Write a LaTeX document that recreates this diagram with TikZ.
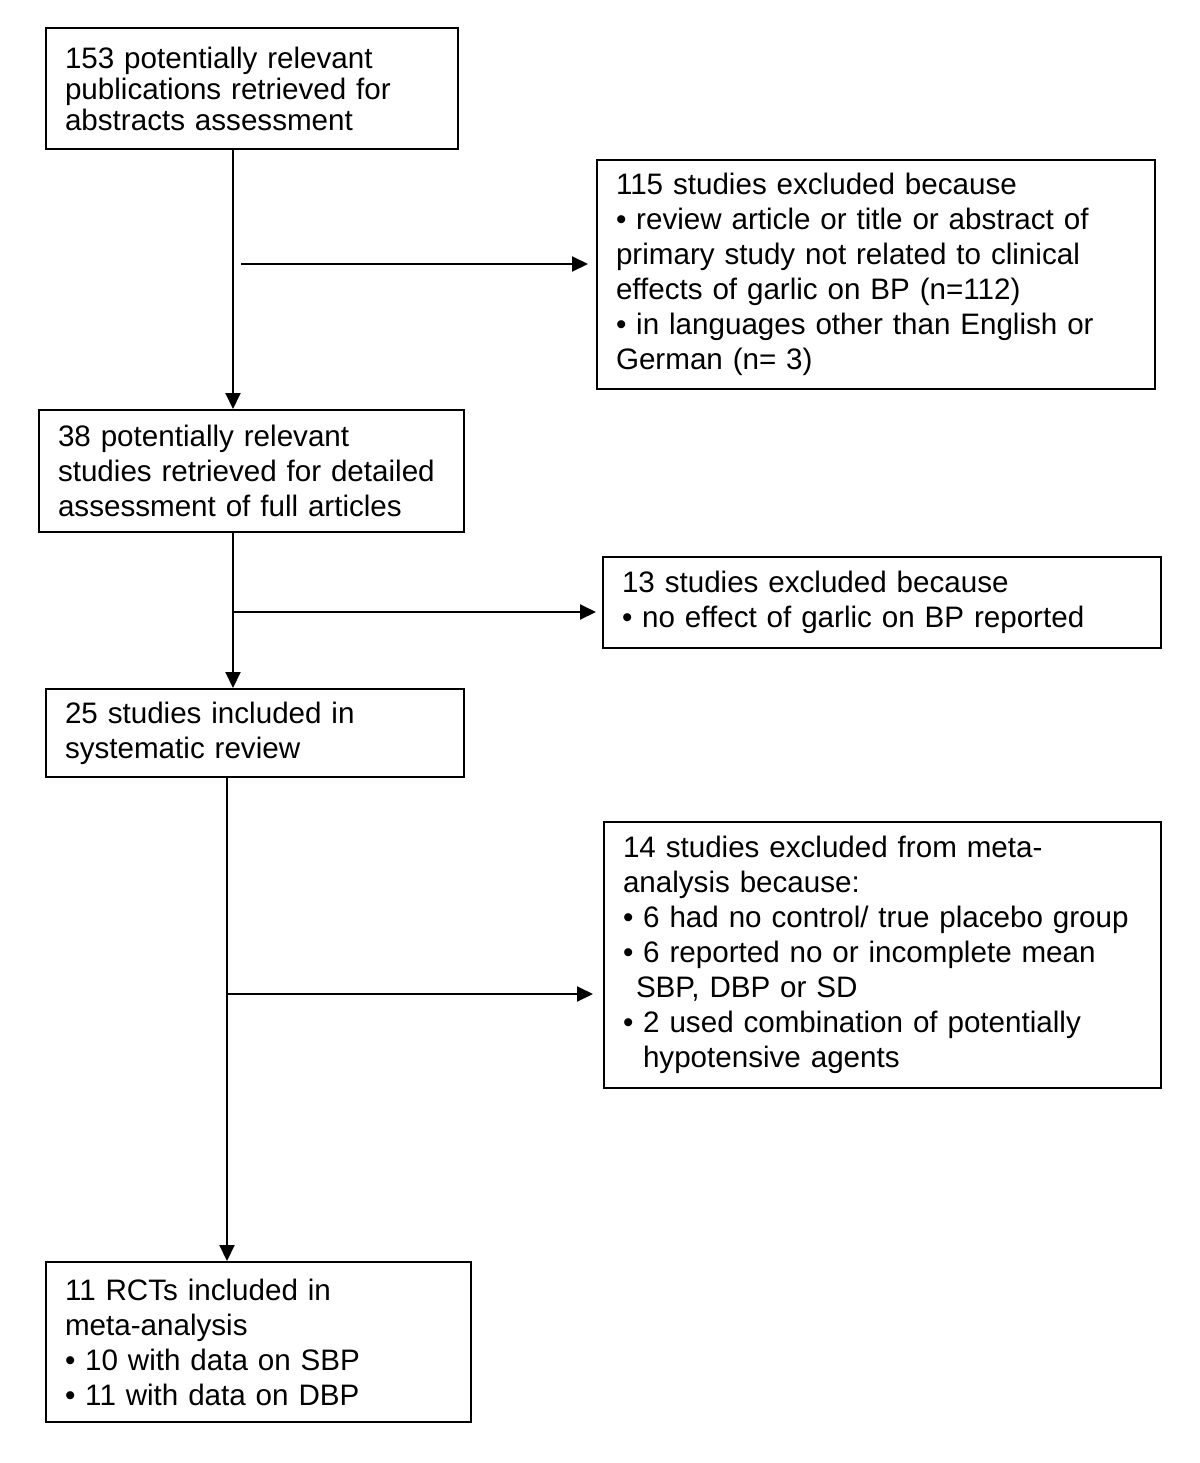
\documentclass[tikz,border=0pt]{standalone}
\usepackage{fontspec}
\setmainfont{Liberation Sans}
\usetikzlibrary{arrows.meta}
\begin{document}
\begin{tikzpicture}[x=0.5pt,y=-0.5pt,
  box/.style={draw, line width=1pt, anchor=north west, align=left,
    inner xsep=9.5pt, inner ysep=0pt, font=\fontsize{14.8}{17.5}\selectfont},
  arr/.style={line width=1pt, -{Triangle[length=8pt,width=7.5pt]}}]
\useasboundingbox[fill=white] (0,0) rectangle (1200,1463);
\node[box, minimum width=206pt, text width=187pt, minimum height=60.5pt,
  font=\fontsize{14.8}{15.5}\selectfont] (b1) at (45,27)
  {153 potentially relevant\\publications retrieved for\\abstracts assessment};
\node[box, minimum width=279pt, text width=260pt, minimum height=114.5pt] (b2) at (596,159)
  {115 studies excluded because\\• review article or title or abstract of\\primary study not related to clinical\\effects of garlic on BP (n=112)\\• in languages other than English or\\German (n= 3)};
\node[box, minimum width=212.5pt, text width=193.5pt, minimum height=61pt] (b3) at (38,409)
  {38 potentially relevant\\studies retrieved for detailed\\assessment of full articles};
\node[box, minimum width=279pt, text width=260pt, minimum height=45.5pt] (b4) at (602,556)
  {13 studies excluded because\\• no effect of garlic on BP reported};
\node[box, minimum width=209pt, text width=190pt, minimum height=44pt] (b5) at (45,688)
  {25 studies included in\\systematic review};
\node[box, minimum width=278.5pt, text width=259.5pt, minimum height=133pt] (b6) at (603,821)
  {14 studies excluded from meta-\\analysis because:\\• 6 had no control/ true placebo group\\• 6 reported no or incomplete mean\\\hspace*{6.5pt}SBP, DBP or SD\\• 2 used combination of potentially\\\hspace*{10pt}hypotensive agents};
\node[box, minimum width=212.5pt, text width=193.5pt, minimum height=80pt] (b7) at (45,1261)
  {11 RCTs included in\\meta-analysis\\• 10 with data on SBP\\• 11 with data on DBP};
% vertical connectors
\draw[arr] (b1.south -| 233,0) -- (b3.north -| 233,0);
\draw[arr] (b3.south -| 233,0) -- (b5.north -| 233,0);
\draw[arr] (b5.south -| 227,0) -- (b7.north -| 227,0);
% side connectors
\coordinate (s1) at (241,264);
\coordinate (s2) at (233,612);
\coordinate (s3) at (227,994);
\draw[arr, shorten >=4pt] (s1) -- (s1 -| b2.west);
\draw[arr, shorten >=3pt] (s2) -- (s2 -| b4.west);
\draw[arr, shorten >=5pt] (s3) -- (s3 -| b6.west);
\end{tikzpicture}
\end{document}
